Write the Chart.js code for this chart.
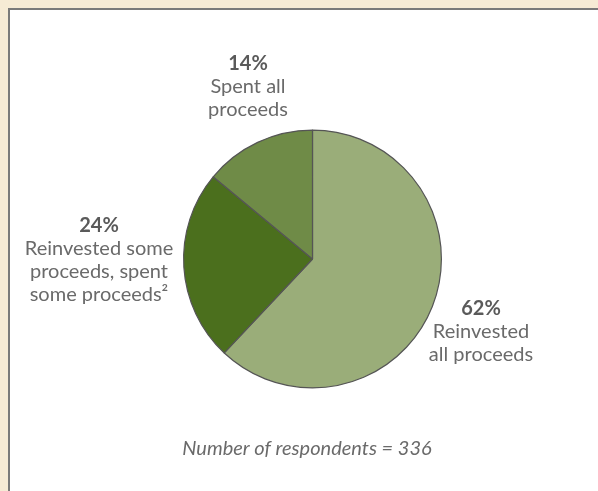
<!DOCTYPE html>
<html>
<head>
<meta charset="utf-8">
<script src="https://cdn.jsdelivr.net/npm/chart.js@4"></script>
<style>
  html, body { margin: 0; padding: 0; background: #f6ebd5; width: 598px; height: 491px; overflow: hidden; }
  #panel { position: absolute; left: 8px; top: 8px; width: 590px; height: 483px; background: #fff;
           border-left: 2px solid #7a7a7a; border-top: 2px solid #7a7a7a; box-sizing: border-box; }
  #wrap { position: absolute; left: 0; top: 0; width: 598px; height: 491px; }
</style>
</head>
<body>
<div id="panel"></div>
<div id="wrap"><canvas id="c" width="598" height="491"></canvas></div>
<script>
// Share of proceeds usage, clockwise from 12 o'clock
const categories = ['Reinvested all proceeds', 'Reinvested some proceeds, spent some proceeds²', 'Spent all proceeds'];
const shares = [62, 24, 14];
const sliceColors = ['#9aad79', '#4b6f1d', '#6f8b47'];
const labelLines = [
  ['Reinvested', 'all proceeds'],
  ['Reinvested some', 'proceeds, spent', 'some proceeds²'],
  ['Spent all', 'proceeds']
];
// label anchor (center x, baseline of first line) for each slice
const labelAnchors = [
  { x: 481, y: 315 },
  { x: 99, y: 232 },
  { x: 248, y: 70 }
];
const footnote = 'Number of respondents = 336';

const labelPlugin = {
  id: 'sliceLabels',
  afterDraw(chart) {
    const ctx = chart.ctx;
    ctx.save();
    ctx.textAlign = 'center';
    ctx.textBaseline = 'alphabetic';
    shares.forEach((v, i) => {
      const a = labelAnchors[i];
      ctx.fillStyle = '#5a5a5a';
      ctx.font = 'bold 20px Lato';
      ctx.fillText(v + '%', a.x, a.y);
      ctx.fillStyle = '#6a6a6a';
      ctx.font = '20px Lato';
      labelLines[i].forEach((t, j) => ctx.fillText(t, a.x, a.y + 23 * (j + 1)));
    });
    ctx.fillStyle = '#6a6a6a';
    ctx.font = 'italic 20px Lato';
    ctx.fillText(footnote, 307, 455);
    ctx.restore();
  }
};

new Chart(document.getElementById('c'), {
  type: 'pie',
  data: {
    labels: categories,
    datasets: [{
      data: shares,
      backgroundColor: sliceColors,
      borderColor: '#555555',
      borderWidth: 1.2,
      borderAlign: 'center'
    }]
  },
  options: {
    responsive: false,
    animation: false,
    layout: { padding: { left: 183, right: 156, top: 129, bottom: 102 } },
    plugins: { legend: { display: false }, tooltip: { enabled: false } }
  },
  plugins: [labelPlugin]
});
</script>
</body>
</html>
